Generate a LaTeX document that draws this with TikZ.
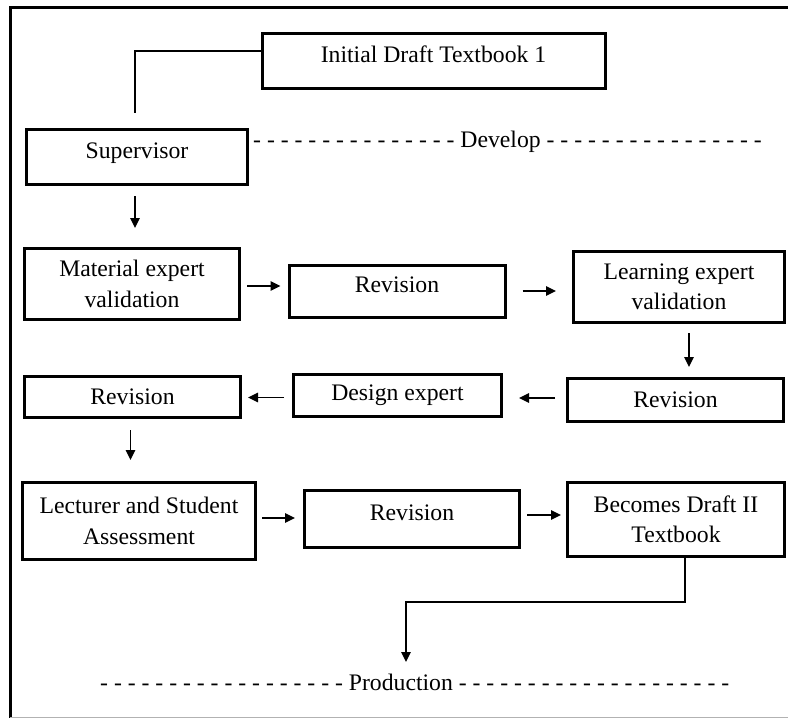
\documentclass[tikz,border=0pt]{standalone}
\usepackage{fontspec}
\setmainfont{Liberation Serif}
\usetikzlibrary{arrows.meta}
\begin{document}
\begin{tikzpicture}[x=1pt,y=-1pt,
  box/.style={draw, line width=3pt, align=center, inner sep=0pt,
    font=\fontsize{23.7}{30.5}\selectfont},
  hi/.style={text height=16pt, text depth=13pt},
  conn/.style={line width=1.3pt},
  arr/.style={conn, -{Triangle[length=10pt,width=9.5pt]}},
  dashtxt/.style={inner sep=0pt, anchor=base west, font=\fontsize{23.7}{30.5}\selectfont}]
\useasboundingbox (0,0) rectangle (788,718);
% outer frame
\draw[line width=3pt] (788,7.5) -- (10,7.5) -- (10,718);
\draw[black!30, line width=1pt] (10,717) -- (788,717);

% boxes
\node[box, hi, minimum width=343pt, minimum height=55pt] (init) at (433.5,61) {Initial Draft Textbook 1};
\node[box, hi, minimum width=221pt, minimum height=55pt] (sup) at (137,157) {Supervisor};
\node[box, minimum width=215pt, minimum height=71pt] (mat) at (132,284) {Material expert\\validation};
\node[box, hi, minimum width=216pt, minimum height=52pt] (rev1) at (397,291) {Revision};
\node[box, minimum width=211pt, minimum height=71pt] (learn) at (679,287) {Learning expert\\validation};
\node[box, minimum width=216pt, minimum height=43pt] (rev2) at (675.5,400) {Revision};
\node[box, minimum width=208pt, minimum height=42pt] (design) at (397.5,395.5) {Design expert};
\node[box, minimum width=216pt, minimum height=41pt] (rev3) at (132.5,397) {Revision};
\node[box, minimum width=233pt, minimum height=77pt] (lect) at (139,521) {Lecturer and Student\\Assessment};
\node[box, hi, minimum width=215pt, minimum height=57pt] (rev4) at (412,519) {Revision};
\node[box, minimum width=217pt, minimum height=74pt] (becomes) at (676,519.5) {Becomes Draft II\\Textbook};

% phase lines
\node[dashtxt] (develop) at (253,147) {- - - - - - - - - - - - - - - Develop - - - - - - - - - - - - - - - -};
\node[dashtxt] (prod) at (100,690.5) {- - - - - - - - - - - - - - - - - - Production - - - - - - - - - - - - - - - - - - - -};

% connectors
\draw[conn] ([yshift=10pt]init.west) -| ([xshift=-2pt,yshift=15pt]sup.north);
\draw[arr, shorten <=10pt, shorten >=19pt] ([xshift=-2pt]sup.south) -- ([xshift=-2pt]sup.south |- mat.north);
\draw[arr, shorten <=6pt, shorten >=7pt] ([yshift=-2pt]mat.east) -- ([yshift=-2pt]mat.east -| rev1.west);
\draw[arr, shorten <=16pt, shorten >=16pt] (rev1.east) -- (rev1.east -| learn.west);
\draw[arr, shorten <=9pt, shorten >=10pt] ([xshift=10pt]learn.south) -- ([xshift=10pt]learn.south |- rev2.north);
\draw[arr, shorten <=11pt, shorten >=16pt] ([yshift=2pt]rev2.west) -- ([yshift=2pt]rev2.west -| design.east);
\draw[arr, shorten <=8pt, shorten >=6pt] ([yshift=-2pt]design.west) -- ([yshift=-2pt]design.west -| rev3.east);
\draw[arr, shorten <=11pt, shorten >=21pt] ([xshift=-2pt]rev3.south) -- ([xshift=-2pt]rev3.south |- lect.north);
\draw[arr, shorten <=5pt, shorten >=8pt] ([yshift=3pt]lect.east) -- ([yshift=3pt]lect.east -| rev4.west);
\draw[arr, shorten <=6pt, shorten >=5pt] ([yshift=4pt]rev4.east) -- ([yshift=4pt]rev4.east -| becomes.west);
\coordinate (turn) at (406,602);
\coordinate (pend) at (406,662);
\draw[arr] ([xshift=9pt]becomes.south) |- (turn) -- (pend);
\end{tikzpicture}
\end{document}
